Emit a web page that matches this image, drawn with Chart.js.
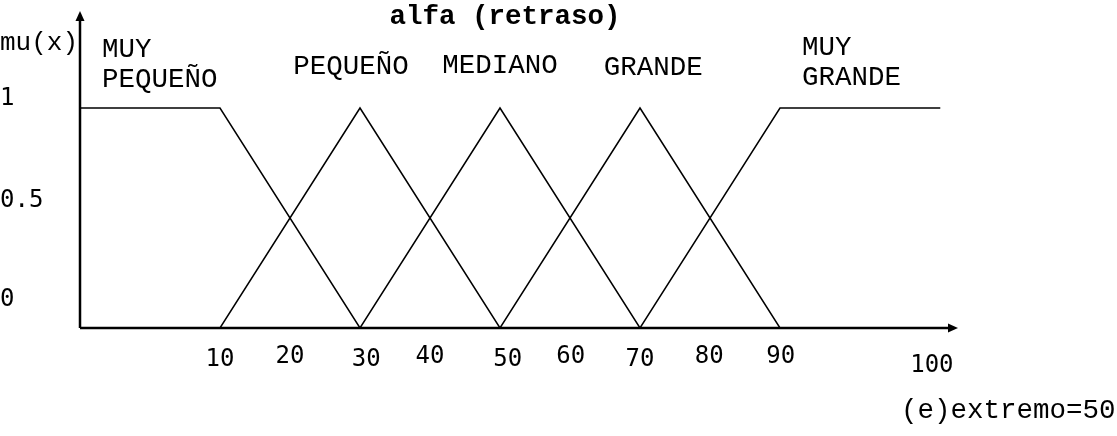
<!DOCTYPE html>
<html>
<head>
<meta charset="utf-8">
<script src="https://cdn.jsdelivr.net/npm/chart.js@4"></script>
<style>
  html, body { margin: 0; padding: 0; background: #fff; }
  #wrap { width: 1117px; height: 436px; position: relative; }
</style>
</head>
<body>
<div id="wrap"><canvas id="fuzzyChart"></canvas></div>
<script>
// Membership functions for alfa (retraso)
const SET_NAMES = ['MUY PEQUEÑO', 'PEQUEÑO', 'MEDIANO', 'GRANDE', 'MUY GRANDE'];
const SET_X = [
  [-10, 10, 30],
  [10, 30, 50],
  [30, 50, 70],
  [50, 70, 90],
  [70, 90, 112.9]
];
const SET_MU = [
  [1, 1, 0],
  [0, 1, 0],
  [0, 1, 0],
  [0, 1, 0],
  [0, 1, 1]
];

// Tick labels (the drawing places some of them a bit off their value)
const X_TICK_LABELS = ['10', '20', '30', '40', '50', '60', '70', '80', '90', '100'];
const X_TICK_AT = [10, 20, 30.9, 40, 51.1, 60.1, 70, 79.9, 90.1, 111.7];
const Y_TICK_LABELS = ['1', '0.5', '0'];
const Y_TICK_AT = [1.04, 0.58, 0.13];

const TITLE = 'alfa (retraso)';
const Y_TITLE = 'mu(x)';
const NOTE = '(e)extremo=50';

const MONO = "'Liberation Mono', 'DejaVu Sans Mono', monospace";
const NUM_FONT = "'DejaVu Sans Mono', 'Liberation Mono', monospace";

const datasets = SET_NAMES.map((name, i) => ({
  label: name,
  data: SET_X[i].map((x, j) => ({ x, y: SET_MU[i][j] })),
  borderColor: '#000',
  borderWidth: 1.5,
  pointRadius: 0,
  tension: 0,
  fill: false
}));

// axes with arrows, ticks and free text
const decorations = {
  id: 'decorations',
  afterDraw(chart) {
    const { ctx, chartArea } = chart;
    const xs = chart.scales.x;
    const ys = chart.scales.y;
    const x0 = chartArea.left;
    const y0 = chartArea.bottom;

    ctx.save();
    ctx.strokeStyle = '#000';
    ctx.fillStyle = '#000';
    ctx.lineWidth = 2.5;

    // x axis
    ctx.beginPath();
    ctx.moveTo(x0, y0);
    ctx.lineTo(chartArea.right - 6, y0);
    ctx.stroke();
    ctx.beginPath();
    ctx.moveTo(chartArea.right, y0);
    ctx.lineTo(chartArea.right - 10, y0 - 4.5);
    ctx.lineTo(chartArea.right - 10, y0 + 4.5);
    ctx.closePath();
    ctx.fill();

    // y axis
    ctx.beginPath();
    ctx.moveTo(x0, y0);
    ctx.lineTo(x0, chartArea.top + 6);
    ctx.stroke();
    ctx.beginPath();
    ctx.moveTo(x0, chartArea.top);
    ctx.lineTo(x0 - 4.5, chartArea.top + 10);
    ctx.lineTo(x0 + 4.5, chartArea.top + 10);
    ctx.closePath();
    ctx.fill();

    ctx.textBaseline = 'middle';

    // title
    ctx.font = 'bold 27.5px ' + MONO;
    ctx.textAlign = 'center';
    ctx.fillText(TITLE, 505, 17);

    // x tick labels
    ctx.font = '24px ' + NUM_FONT;
    X_TICK_LABELS.forEach((lbl, i) => {
      const dy = lbl === '100' ? 38 : (i % 2 === 1 || lbl === '90' ? 29 : 32);
      ctx.fillText(lbl, xs.getPixelForValue(X_TICK_AT[i]), y0 + dy);
    });

    // y tick labels
    ctx.textAlign = 'left';
    Y_TICK_LABELS.forEach((lbl, i) => {
      ctx.fillText(lbl, 0, ys.getPixelForValue(Y_TICK_AT[i]));
    });

    // y title
    ctx.font = '26px ' + MONO;
    ctx.fillText(Y_TITLE, 0, ys.getPixelForValue(1.295));

    // set names
    ctx.font = '27.5px ' + MONO;
    ctx.fillText('MUY', 102, 50);
    ctx.fillText('PEQUEÑO', 102, 80);
    ctx.textAlign = 'center';
    ctx.fillText('PEQUEÑO', xs.getPixelForValue(28.7), 67);
    ctx.fillText('MEDIANO', xs.getPixelForValue(50), 66);
    ctx.fillText('GRANDE', xs.getPixelForValue(71.9), 68);
    ctx.textAlign = 'left';
    ctx.fillText('MUY', 802, 48);
    ctx.fillText('GRANDE', 802, 78);

    // note
    ctx.fillText(NOTE, 901, 411);
    ctx.restore();
  }
};

new Chart(document.getElementById('fuzzyChart').getContext('2d'), {
  type: 'line',
  data: { datasets },
  options: {
    responsive: true,
    maintainAspectRatio: false,
    animation: false,
    layout: { padding: { left: 80, right: 159, top: 11, bottom: 108 } },
    plugins: {
      legend: { display: false },
      tooltip: { enabled: false }
    },
    scales: {
      x: { type: 'linear', min: -10, max: 115.43, display: false },
      y: { type: 'linear', min: 0, max: 1.4409, display: false }
    }
  },
  plugins: [decorations]
});
</script>
</body>
</html>
